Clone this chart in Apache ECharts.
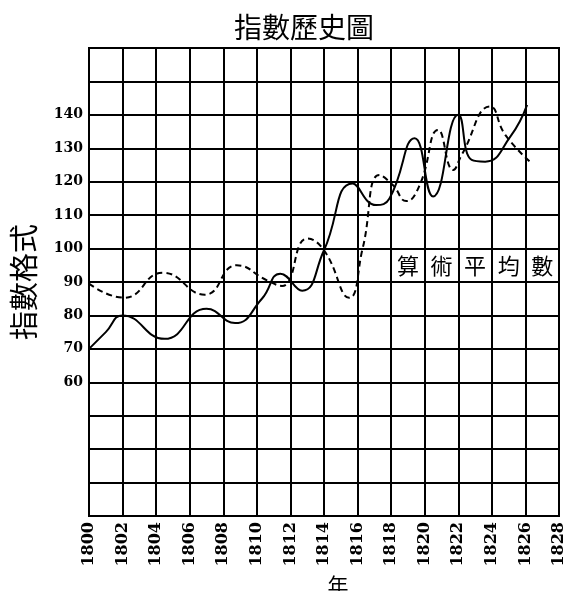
<!DOCTYPE html>
<html>
<head>
<meta charset="utf-8">
<script src="https://cdn.jsdelivr.net/npm/echarts@6/dist/echarts.min.js"></script>
<style>
html,body{margin:0;padding:0;background:#fff;}
#c{width:567px;height:591px;}
</style>
</head>
<body>
<div id="c"></div>
<script>
const title = '指數歷史圖';
const yName = '指數格式';
const xName = '年';
const seriesLabel = ['算', '術', '平', '均', '數'];
const labelYears = [1819, 1821, 1823, 1825, 1827];
const labelLevel = 95;
const yTickLabels = [60, 70, 80, 90, 100, 110, 120, 130, 140];

const solidSeries = [
  [1800, 70], [1801, 75], [1802, 80], [1804.5, 73], [1807, 82], [1808.7, 77.7],
  [1810.3, 85], [1811.4, 92.5], [1812.7, 87.4], [1814, 99.5], [1815.7, 119.5],
  [1817.1, 113], [1817.9, 115], [1819.4, 133], [1820.5, 115.6], [1822, 140],
  [1822.8, 126.5], [1823.6, 126], [1825.1, 133.5], [1826.1, 143]
];
const dashedSeries = [
  [1800, 89.5], [1802.1, 85.3], [1804.4, 92.8], [1806.9, 86.2], [1808.8, 95],
  [1810.6, 90.5], [1811.5, 88.8], [1813, 103], [1814, 99.5], [1815.5, 85.3],
  [1816.3, 100], [1817.3, 122], [1818.1, 119], [1818.9, 114.2], [1819.7, 119],
  [1820.8, 135.5], [1821.7, 123.5], [1822.2, 128], [1823.9, 142.5], [1824.8, 134],
  [1826.4, 125.4]
];

const serif = '"DejaVu Serif", "Liberation Serif", serif';
const cjk = '"Noto Sans CJK TC", "Noto Sans CJK SC", sans-serif';

const chart = echarts.init(document.getElementById('c'));
chart.setOption({
  backgroundColor: '#fff',
  animation: false,
  title: {
    text: title, left: 299, top: 8, textAlign: 'center',
    textStyle: { fontFamily: cjk, fontSize: 28, fontWeight: 'normal', color: '#000' }
  },
  grid: {
    left: 89, right: 8, top: 48, bottom: 75, show: true, borderColor: '#000', borderWidth: 2,
    containLabel: false, outerBoundsMode: 'none'
  },
  xAxis: {
    type: 'value', min: 1800, max: 1828, interval: 2,
    name: xName, nameLocation: 'middle', nameGap: 53,
    nameTextStyle: { fontFamily: cjk, fontSize: 21, fontWeight: 'normal', color: '#000', padding: [0, 0, 0, 28] },
    axisLine: { show: true, lineStyle: { color: '#000', width: 2 } },
    axisTick: { show: false },
    axisLabel: {
      rotate: 90, margin: 6, fontFamily: serif, fontWeight: 'bold', fontSize: 16, color: '#000',
      formatter: v => String(v)
    },
    splitLine: { show: true, lineStyle: { color: '#000', width: 2 } }
  },
  yAxis: {
    type: 'value', min: 20, max: 160, interval: 10,
    name: yName, nameLocation: 'middle', nameGap: 51, nameRotate: 90,
    nameTextStyle: { fontFamily: cjk, fontSize: 29, fontWeight: 'normal', color: '#000' },
    axisLine: { show: true, lineStyle: { color: '#000', width: 2 } },
    axisTick: { show: false },
    axisLabel: {
      margin: 6, fontFamily: serif, fontWeight: 'bold', fontSize: 14, color: '#000',
      formatter: v => yTickLabels.indexOf(v) >= 0 ? String(v) : ''
    },
    splitLine: { show: true, lineStyle: { color: '#000', width: 2 } }
  },
  series: [
    {
      type: 'line', data: solidSeries, smooth: 0.5, symbol: 'none',
      lineStyle: { color: '#000', width: 2 }
    },
    {
      type: 'line', data: dashedSeries, smooth: 0.5, symbol: 'none',
      lineStyle: { color: '#000', width: 2, type: [6, 4] }
    }
  ]
});

const g = seriesLabel.map((ch, i) => {
  const p = chart.convertToPixel({ gridIndex: 0 }, [labelYears[i], labelLevel]);
  return {
    type: 'text', x: p[0], y: p[1],
    style: { text: ch, fontFamily: cjk, fontSize: 22, fontWeight: 'normal', fill: '#000', align: 'center', verticalAlign: 'middle' }
  };
});
chart.setOption({ graphic: g });
</script>
</body>
</html>
